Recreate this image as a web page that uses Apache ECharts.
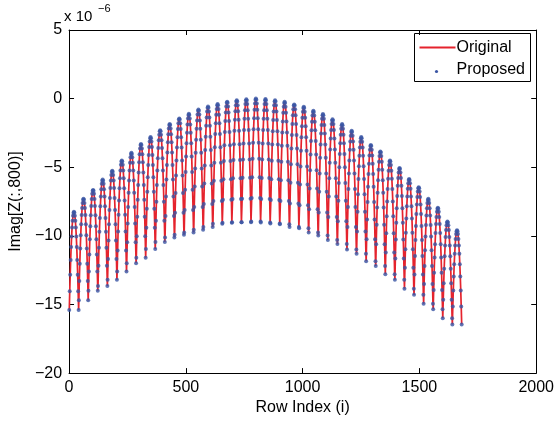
<!DOCTYPE html>
<html>
<head>
<meta charset="utf-8">
<script src="https://cdn.jsdelivr.net/npm/echarts@6/dist/echarts.min.js"></script>
<style>
html,body{margin:0;padding:0;background:#fff;}
#chart{width:557px;height:421px;}
</style>
</head>
<body>
<div id="chart"></div>
<script>
// Values are Imag[Z(:,800)] in units of 1e-6.
// The 1681 rows form 41 blocks of 41 rows; each block is an arch centred on its 21st row.
const blockSize = 41;
const blockCenter = 21;
// distance (in rows) from the block centre at which each profile value is read
const halfOffsets = [0, 2, 4, 6, 8, 10, 12, 14, 16, 18, 20];
// one half-arch per block (centre -> edge)
const blockProfiles = [
  [-8.25, -8.32, -8.54, -8.89, -9.39, -10.04, -10.82, -11.75, -12.83, -14.04, -15.4],
  [-7.3, -7.37, -7.6, -7.97, -8.48, -9.15, -9.96, -10.93, -12.04, -13.29, -14.7],
  [-6.65, -6.72, -6.94, -7.31, -7.83, -8.49, -9.3, -10.25, -11.35, -12.6, -14.0],
  [-5.9, -5.98, -6.21, -6.6, -7.14, -7.84, -8.69, -9.7, -10.86, -12.18, -13.65],
  [-5.25, -5.33, -5.57, -5.97, -6.52, -7.24, -8.11, -9.15, -10.34, -11.69, -13.2],
  [-4.5, -4.58, -4.82, -5.23, -5.8, -6.53, -7.42, -8.47, -9.68, -11.06, -12.6],
  [-3.95, -4.03, -4.27, -4.67, -5.24, -5.96, -6.85, -7.89, -9.1, -10.47, -12.0],
  [-3.3, -3.38, -3.63, -4.05, -4.63, -5.38, -6.29, -7.37, -8.61, -10.02, -11.6],
  [-2.8, -2.88, -3.13, -3.53, -4.1, -4.84, -5.73, -6.79, -8.02, -9.4, -10.95],
  [-2.3, -2.38, -2.63, -3.03, -3.6, -4.34, -5.23, -6.29, -7.52, -8.9, -10.45],
  [-1.85, -1.93, -2.18, -2.59, -3.17, -3.92, -4.83, -5.9, -7.14, -8.55, -10.12],
  [-1.45, -1.53, -1.79, -2.21, -2.81, -3.57, -4.5, -5.6, -6.87, -8.31, -9.92],
  [-1.1, -1.19, -1.45, -1.88, -2.48, -3.26, -4.21, -5.34, -6.64, -8.11, -9.75],
  [-0.8, -0.89, -1.15, -1.59, -2.2, -2.99, -3.95, -5.09, -6.4, -7.89, -9.55],
  [-0.58, -0.67, -0.93, -1.37, -1.98, -2.77, -3.74, -4.88, -6.19, -7.68, -9.35],
  [-0.4, -0.49, -0.75, -1.18, -1.8, -2.58, -3.54, -4.67, -5.98, -7.46, -9.12],
  [-0.22, -0.31, -0.57, -1.01, -1.63, -2.43, -3.4, -4.55, -5.87, -7.37, -9.05],
  [-0.12, -0.21, -0.48, -0.92, -1.54, -2.34, -3.32, -4.47, -5.8, -7.31, -9.0],
  [-0.04, -0.13, -0.4, -0.85, -1.47, -2.28, -3.27, -4.43, -5.77, -7.3, -9.0],
  [0.0, -0.09, -0.36, -0.81, -1.43, -2.24, -3.22, -4.39, -5.73, -7.25, -8.95],
  [-0.03, -0.12, -0.39, -0.84, -1.47, -2.28, -3.27, -4.44, -5.78, -7.31, -9.02],
  [-0.12, -0.21, -0.48, -0.93, -1.56, -2.37, -3.35, -4.52, -5.87, -7.39, -9.1],
  [-0.23, -0.32, -0.59, -1.03, -1.66, -2.46, -3.44, -4.6, -5.94, -7.46, -9.15],
  [-0.42, -0.51, -0.78, -1.22, -1.85, -2.65, -3.63, -4.79, -6.13, -7.65, -9.35],
  [-0.6, -0.69, -0.95, -1.4, -2.02, -2.81, -3.79, -4.94, -6.26, -7.77, -9.45],
  [-0.88, -0.97, -1.23, -1.68, -2.3, -3.09, -4.07, -5.22, -6.55, -8.06, -9.75],
  [-1.12, -1.21, -1.47, -1.92, -2.54, -3.34, -4.31, -5.46, -6.79, -8.3, -9.98],
  [-1.5, -1.59, -1.85, -2.29, -2.91, -3.7, -4.67, -5.81, -7.13, -8.63, -10.3],
  [-1.85, -1.94, -2.2, -2.64, -3.25, -4.04, -5.0, -6.14, -7.45, -8.94, -10.6],
  [-2.35, -2.44, -2.7, -3.13, -3.73, -4.51, -5.46, -6.59, -7.89, -9.36, -11.0],
  [-2.8, -2.89, -3.14, -3.57, -4.16, -4.93, -5.86, -6.97, -8.24, -9.69, -11.3],
  [-3.38, -3.46, -3.72, -4.14, -4.74, -5.5, -6.43, -7.53, -8.8, -10.24, -11.85],
  [-3.85, -3.93, -4.18, -4.6, -5.19, -5.94, -6.86, -7.94, -9.19, -10.61, -12.2],
  [-4.5, -4.58, -4.83, -5.25, -5.83, -6.58, -7.49, -8.57, -9.81, -11.22, -12.8],
  [-5.05, -5.13, -5.38, -5.78, -6.35, -7.09, -7.98, -9.04, -10.27, -11.65, -13.2],
  [-5.85, -5.93, -6.17, -6.57, -7.13, -7.85, -8.73, -9.77, -10.97, -12.33, -13.85],
  [-6.45, -6.53, -6.76, -7.16, -7.71, -8.41, -9.28, -10.3, -11.47, -12.81, -14.3],
  [-7.3, -7.38, -7.61, -7.99, -8.52, -9.21, -10.05, -11.05, -12.2, -13.5, -14.95],
  [-7.95, -8.02, -8.25, -8.62, -9.13, -9.8, -10.61, -11.58, -12.69, -13.94, -15.35],
  [-8.95, -9.02, -9.23, -9.58, -10.08, -10.71, -11.49, -12.4, -13.46, -14.66, -16.0],
  [-9.6, -9.67, -9.87, -10.22, -10.7, -11.31, -12.07, -12.96, -13.98, -15.15, -16.45]
];
const xTickValues = [0, 500, 1000, 1500, 2000];
const xTickLabels = ['0', '500', '1000', '1500', '2000'];
const yTickValues = [-20, -15, -10, -5, 0, 5];
const yTickLabels = ['\u221220', '\u221215', '\u221210', '\u22125', '0', '5'];
const seriesNames = ['Original', 'Proposed'];

// build [row index, value] pairs from the block profiles (mirrored about each block centre)
const points = [];
blockProfiles.forEach(function (prof, j) {
  for (let n = prof.length - 1; n >= 0; n--) {
    points.push([j * blockSize + blockCenter - halfOffsets[n], prof[n]]);
  }
  for (let n = 1; n < prof.length; n++) {
    points.push([j * blockSize + blockCenter + halfOffsets[n], prof[n]]);
  }
});

const FONT = "'Liberation Sans', Arial, Helvetica, sans-serif";
const chart = echarts.init(document.getElementById('chart'), null, {renderer: 'canvas'});

function fmt(values, labels) {
  return function (v) {
    const i = values.indexOf(v);
    return i >= 0 ? labels[i] : '';
  };
}

const axisCommon = {
  type: 'value',
  splitLine: {show: false},
  axisLine: {show: true, onZero: false, lineStyle: {color: '#000', width: 1}},
  axisTick: {show: true, inside: true, length: 5, lineStyle: {color: '#000', width: 1}}
};

chart.setOption({
  animation: false,
  backgroundColor: '#fff',
  grid: {left: 63, right: 18, top: 30, bottom: 44, containLabel: false},
  xAxis: [
    Object.assign({}, axisCommon, {
      position: 'bottom', min: 0, max: 2000, interval: 500,
      axisLabel: {color: '#000', fontSize: 16, fontFamily: FONT, margin: 6, formatter: fmt(xTickValues, xTickLabels)},
      name: 'Row Index (i)', nameLocation: 'middle', nameGap: 22,
      nameTextStyle: {color: '#000', fontSize: 16, fontFamily: FONT}
    }),
    Object.assign({}, axisCommon, {
      position: 'top', min: 0, max: 2000, interval: 500, axisLabel: {show: false}
    })
  ],
  yAxis: [
    Object.assign({}, axisCommon, {
      position: 'left', min: -20, max: 5, interval: 5,
      axisLabel: {color: '#000', fontSize: 16, fontFamily: FONT, margin: 7, formatter: fmt(yTickValues, yTickLabels)},
      name: 'Imag[Z(:,800)]', nameLocation: 'middle', nameGap: 34, nameRotate: 90,
      nameTextStyle: {color: '#000', fontSize: 16, fontFamily: FONT}
    }),
    Object.assign({}, axisCommon, {
      position: 'right', min: -20, max: 5, interval: 5, axisLabel: {show: false}
    })
  ],
  series: [
    {
      name: seriesNames[0], type: 'line', xAxisIndex: 0, yAxisIndex: 0,
      data: points, showSymbol: false, symbol: 'none',
      lineStyle: {color: '#e5232d', width: 1.7}, silent: true, z: 2
    },
    {
      name: seriesNames[1], type: 'scatter', xAxisIndex: 0, yAxisIndex: 0,
      data: points, symbol: 'circle', symbolSize: 4,
      itemStyle: {color: '#3a55a4'}, silent: true, z: 3
    }
  ],
  graphic: [
    {type: 'text', left: 64, top: 9, style: {text: 'x 10', fill: '#000', font: '15px ' + FONT}},
    {type: 'text', left: 98, top: 3, style: {text: '\u22126', fill: '#000', font: '11px ' + FONT}},
    {type: 'group', left: 414, top: 33, children: [
      {type: 'rect', shape: {x: 0, y: 0, width: 116, height: 48}, style: {fill: '#fff', stroke: '#000', lineWidth: 1}},
      {type: 'line', shape: {x1: 5, y1: 14, x2: 41, y2: 14}, style: {stroke: '#e5232d', lineWidth: 2}},
      {type: 'text', x: 42, y: 14, style: {text: seriesNames[0], fill: '#000', font: '16px ' + FONT, textVerticalAlign: 'middle', verticalAlign: 'middle'}},
      {type: 'circle', shape: {cx: 22, cy: 38, r: 1.6}, style: {fill: '#3a55a4'}},
      {type: 'text', x: 42, y: 36, style: {text: seriesNames[1], fill: '#000', font: '16px ' + FONT, textVerticalAlign: 'middle', verticalAlign: 'middle'}}
    ]}
  ]
});
</script>
</body>
</html>
